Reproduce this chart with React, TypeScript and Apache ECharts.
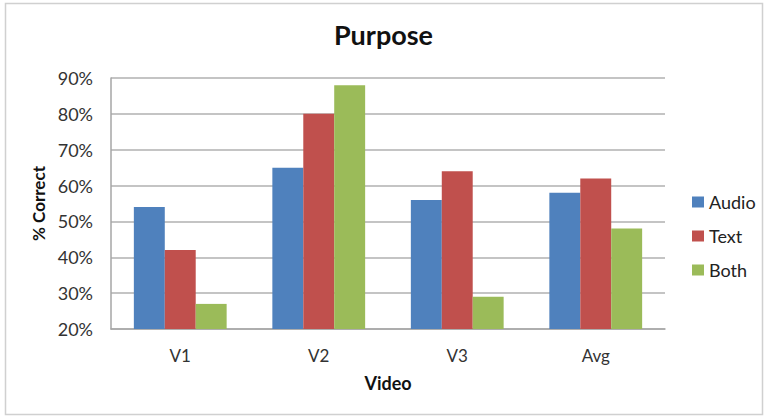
import React, { useEffect, useRef } from "react";
import * as echarts from "echarts";

const categories = ["V1", "V2", "V3", "Avg"];
const audio = [54, 65, 56, 58];
const text = [42, 80, 64, 62];
const both = [27, 88, 29, 48];
const seriesNames = ["Audio", "Text", "Both"];
const colors = ["#4F81BD", "#C0504D", "#9BBB59"];

const FONT = "Lato, 'Open Sans', sans-serif";

export default function App() {
  const ref = useRef<HTMLDivElement>(null);
  useEffect(() => {
    if (!ref.current) return;
    const chart = echarts.init(ref.current, null, { renderer: "svg" });
    const values = [audio, text, both];
    chart.setOption({
      animation: false,
      backgroundColor: "#ffffff",
      textStyle: { fontFamily: FONT },
      title: {
        text: "Purpose",
        left: "center",
        top: 16,
        textStyle: { fontFamily: FONT, fontSize: 27, fontWeight: "bold", color: "#111" },
      },
      graphic: [
        {
          type: "rect",
          shape: { x: 5.5, y: 3.5, width: 757, height: 411 },
          style: { fill: "none", stroke: "#d0d0d0", lineWidth: 1.5 },
          silent: true,
        },
      ],
      legend: {
        orient: "vertical",
        left: 687,
        top: 188,
        itemWidth: 12,
        itemHeight: 11,
        itemGap: 16,
        icon: "rect",
        data: seriesNames,
        textStyle: { fontFamily: FONT, fontSize: 18, color: "#222", padding: [0, 0, 0, 0] },
      },
      grid: { left: 111, right: 102, top: 78, bottom: 87 },
      xAxis: {
        type: "category",
        data: categories,
        name: "Video",
        nameLocation: "middle",
        nameGap: 45,
        nameTextStyle: { fontFamily: FONT, fontSize: 18, fontWeight: "bold", color: "#111" },
        axisLine: { lineStyle: { color: "#a6a6a6", width: 1.5 } },
        axisTick: { show: false },
        axisLabel: { fontFamily: FONT, fontSize: 17, color: "#333", margin: 18 },
      },
      yAxis: {
        type: "value",
        min: 20,
        max: 90,
        interval: 10,
        name: "% Correct",
        nameLocation: "middle",
        nameGap: 61,
        nameTextStyle: { fontFamily: FONT, fontSize: 17, fontWeight: "bold", color: "#111" },
        axisLine: { show: true, lineStyle: { color: "#a6a6a6", width: 1.5 } },
        axisTick: { show: false },
        splitLine: { lineStyle: { color: "#b0b0b0", width: 1.5 } },
        axisLabel: { fontFamily: FONT, fontSize: 18, color: "#333", margin: 18, formatter: "{value}%" },
      },
      series: seriesNames.map((name, i) => ({
        name,
        type: "bar",
        data: values[i],
        barGap: "0%",
        barCategoryGap: "33%",
        itemStyle: { color: colors[i] },
      })),
    });
    return () => chart.dispose();
  }, []);
  return (
    <div
      ref={ref}
      style={{ position: "fixed", left: 0, top: 0, width: 767, height: 416 }}
    />
  );
}
